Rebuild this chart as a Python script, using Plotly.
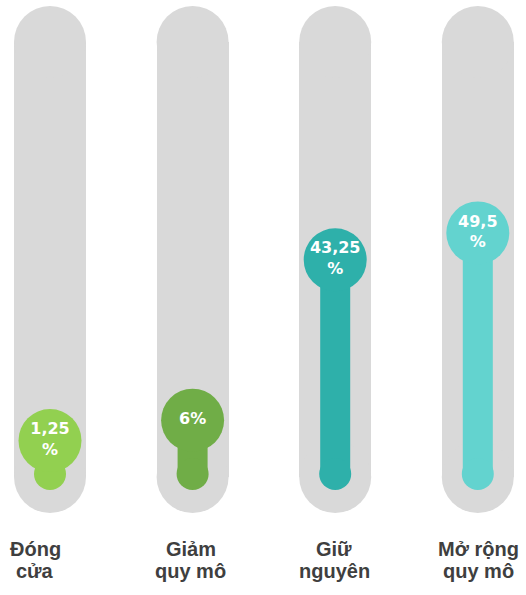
import plotly.graph_objects as go

# Survey result: share of respondents per business plan
categories = ["Đóng\ncửa", "Giảm\nquy mô", "Giữ\nnguyên", "Mở rộng\nquy mô"]
values = [1.25, 6, 43.25, 49.5]
colors = ["#92D050", "#70AD47", "#2EB0AA", "#63D3CF"]
label_shift_px = [-15, -2, -1, 1]

TRACK_COLOR = "#D9D9D9"
LABEL_COLOR = "#3F3F3F"

W, H = 526, 595
PX_PER_UNIT = 4.304      # vertical scale (pixels per percentage point)
ZERO_PX = 446            # pixel row of value 0
SLOT_PX = 142.6          # horizontal distance between thermometers
FIRST_PX = 50            # centre of first thermometer


def y_of(px):
    """Convert a pixel row into y-axis units."""
    return (ZERO_PX - px) / PX_PER_UNIT


def w_of(px):
    """Convert a pixel width into x-axis units."""
    return px / SLOT_PX


def value_text(v):
    s = f"{v:g}".replace(".", ",")
    return f"<b>{s}%</b>" if float(v).is_integer() else f"<b>{s}<br>%</b>"


xs = list(range(len(values)))
track_top = y_of(42)
track_bot = y_of(477)
stem_base = y_of(474)

fig = go.Figure()

# grey rounded tracks: body (bar layer) + round caps
fig.add_trace(go.Bar(
    x=xs, y=[track_top - track_bot] * len(xs), base=track_bot,
    width=w_of(72), marker=dict(color=TRACK_COLOR, line=dict(width=0)),
    hoverinfo="skip", showlegend=False))
fig.add_trace(go.Scatter(
    x=xs + xs, y=[track_top] * len(xs) + [track_bot] * len(xs), mode="markers",
    marker=dict(size=72, color=TRACK_COLOR, line=dict(width=0)),
    hoverinfo="skip", showlegend=False))

# coloured stems from the bulb up to the value
for x, v, c in zip(xs, values, colors):
    fig.add_trace(go.Scatter(
        x=[x, x], y=[stem_base, v], mode="lines",
        line=dict(color=c, width=30),
        hoverinfo="skip", showlegend=False))

# bulbs at the foot of each stem
fig.add_trace(go.Scatter(
    x=xs, y=[stem_base] * len(xs), mode="markers",
    marker=dict(size=32, color=colors, line=dict(width=0)),
    hoverinfo="skip", showlegend=False))

# value bubbles
fig.add_trace(go.Scatter(
    x=xs, y=values, mode="markers+text",
    marker=dict(size=63, color=colors, line=dict(width=0)),
    text=[value_text(v) for v in values], textposition="middle center",
    textfont=dict(family="DejaVu Sans", size=16, color="white"),
    hoverinfo="skip", showlegend=False))

# category labels (two lines each)
annotations = []
for i, cat in enumerate(categories):
    for j, line in enumerate(cat.split("\n")):
        annotations.append(dict(
            x=i, y=y_of(549 + 22 * j), xref="x", yref="y",
            xshift=label_shift_px[i],
            text=f"<b>{line}</b>", showarrow=False,
            xanchor="center", yanchor="middle",
            font=dict(family="Liberation Sans, Arial", size=20, color=LABEL_COLOR)))

fig.update_layout(
    width=W, height=H,
    margin=dict(l=0, r=0, t=0, b=0),
    paper_bgcolor="white", plot_bgcolor="white",
    barmode="overlay", bargap=0,
    xaxis=dict(range=[-FIRST_PX / SLOT_PX, (W - FIRST_PX) / SLOT_PX],
               visible=False, fixedrange=True),
    yaxis=dict(range=[y_of(H), y_of(0)], visible=False, fixedrange=True),
    annotations=annotations,
)

fig.write_html("out.html")
